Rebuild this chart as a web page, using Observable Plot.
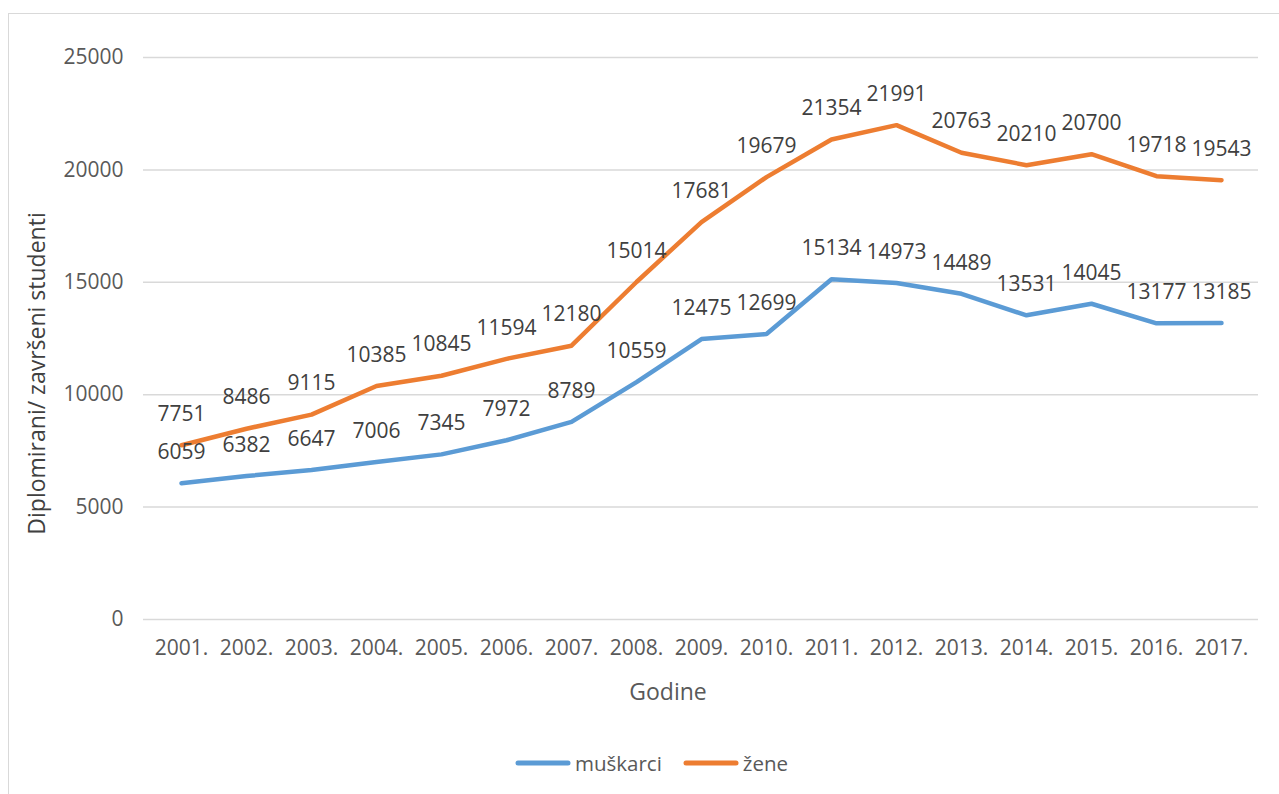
<!DOCTYPE html>
<html>
<head>
<meta charset="utf-8">
<script src="https://cdn.jsdelivr.net/npm/d3@7"></script>
<script src="https://cdn.jsdelivr.net/npm/@observablehq/plot@0.6"></script>
<style>
html, body { margin: 0; padding: 0; background: #fff; overflow: hidden; width: 1279px; height: 794px; }
#frame { position: absolute; left: 8px; top: 13px; width: 1400px; height: 900px; border: 1px solid #d9d9d9; box-sizing: border-box; }
#chart { position: absolute; left: 0; top: 0; }
#legend { position: absolute; top: 749px; left: 515px; display: flex; align-items: center; font-family: 'Open Sans', sans-serif; font-size: 20.5px; color: #595959; }
.item { display: flex; align-items: center; margin-right: 21px; }
.item svg { margin-right: 4px; }
</style>
</head>
<body>
<div id="frame"></div>
<div id="chart"></div>
<div id="legend"></div>
<script>
const years = ["2001.", "2002.", "2003.", "2004.", "2005.", "2006.", "2007.", "2008.", "2009.", "2010.", "2011.", "2012.", "2013.", "2014.", "2015.", "2016.", "2017."];
const muskarci = [6059, 6382, 6647, 7006, 7345, 7972, 8789, 10559, 12475, 12699, 15134, 14973, 14489, 13531, 14045, 13177, 13185];
const zene = [7751, 8486, 9115, 10385, 10845, 11594, 12180, 15014, 17681, 19679, 21354, 21991, 20763, 20210, 20700, 19718, 19543];
const seriesNames = ["muškarci", "žene"];
const seriesColors = ["#5b9bd5", "#ed7d31"];
const yTicks = [0, 5000, 10000, 15000, 20000, 25000];
const xTitle = "Godine";
const yTitle = "Diplomirani/ završeni studenti";

const data = [];
years.forEach((y, i) => data.push({year: y, value: muskarci[i], series: seriesNames[0]}));
years.forEach((y, i) => data.push({year: y, value: zene[i], series: seriesNames[1]}));

const chart = Plot.plot({
  width: 1279,
  height: 720,
  marginTop: 57,
  marginBottom: 101,
  marginLeft: 143,
  marginRight: 21,
  style: {fontFamily: "'Open Sans', sans-serif", fontSize: "21px", color: "#595959", background: "transparent", overflow: "visible"},
  x: {type: "point", domain: years, padding: 0.5, label: null},
  y: {domain: [0, 25000], label: null},
  color: {domain: seriesNames, range: seriesColors},
  marks: [
    Plot.gridY(yTicks, {stroke: "#d9d9d9", strokeOpacity: 1, strokeWidth: 1.5}),
    Plot.axisY({ticks: yTicks, tickSize: 0, tickPadding: 20, label: null, tickFormat: d => String(d), fontSize: 21}),
    Plot.axisX({tickSize: 0, tickPadding: 21, label: null, fontSize: 21}),
    Plot.line(data, {x: "year", y: "value", z: "series", stroke: "series", strokeWidth: 4.5, strokeLinejoin: "round", strokeLinecap: "round"}),
    Plot.text(data, {x: "year", y: "value", text: d => String(d.value), dy: -31, fill: "#404040", fontSize: 21}),
    Plot.text([xTitle], {frameAnchor: "bottom", textAnchor: "middle", lineAnchor: "middle", dx: -33, dy: 73, fontSize: 23, fill: "#595959"}),
    Plot.text([yTitle], {frameAnchor: "left", textAnchor: "middle", lineAnchor: "middle", rotate: -90, dx: -106, dy: 35, fontSize: 23, fill: "#404040"})
  ]
});
document.getElementById("chart").appendChild(chart);

const legend = document.getElementById("legend");
seriesNames.forEach((name, i) => {
  const item = document.createElement("div");
  item.className = "item";
  item.innerHTML = `<svg width="56" height="10"><line x1="3" y1="5" x2="53" y2="5" stroke="${seriesColors[i]}" stroke-width="5" stroke-linecap="round"/></svg><span>${name}</span>`;
  legend.appendChild(item);
});
</script>
</body>
</html>
